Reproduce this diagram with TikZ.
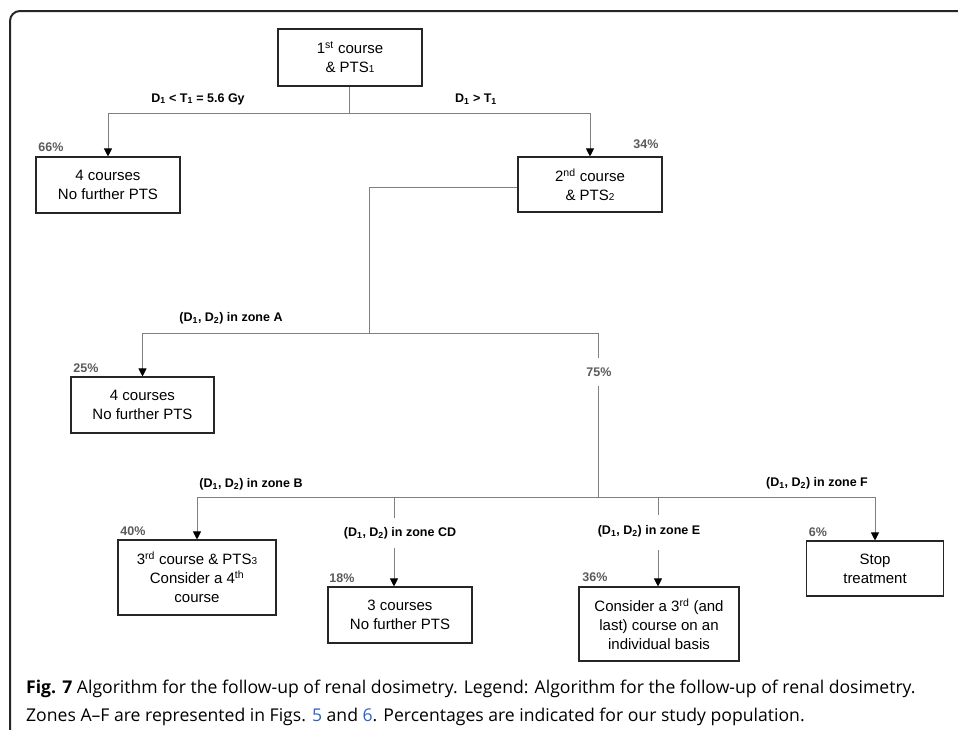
\documentclass[tikz,border=0pt]{standalone}
\usepackage{fontspec}
\setmainfont{Liberation Sans}
\newfontfamily\capfont{Open Sans}
\usetikzlibrary{arrows.meta}
\definecolor{linegray}{HTML}{808080}
\definecolor{pctgray}{HTML}{5A5A5A}
\definecolor{linkblue}{HTML}{2A63C8}
\newcommand{\sbs}[1]{{\fontsize{10}{10}\selectfont #1}}
\begin{document}
\begin{tikzpicture}[x=1pt,y=-1pt,
  box/.style={draw=black!85,line width=1.1pt,align=center,inner sep=0pt,
    font=\fontsize{15}{19}\selectfont},
  conn/.style={draw=linegray,line width=0.9pt},
  arr/.style={conn,-{Triangle[width=8pt,length=8pt,color=black]}},
  lbl/.style={font=\bfseries\fontsize{12.5}{14}\selectfont,inner sep=0pt},
  pct/.style={font=\bfseries\fontsize{12.5}{14}\selectfont,text=pctgray,inner sep=0pt}]
\useasboundingbox (0,0) rectangle (958,729);
% frame
\draw[line width=2pt,draw=black!85,rounded corners=10pt] (962,11) -- (10,11) -- (10,733);
% boxes
\node[box,minimum width=144pt,minimum height=57pt] (b1) at (350,57.5) {1\textsuperscript{st} course\\\& PTS\sbs{1}};
\node[box,minimum width=144pt,minimum height=56pt] (b2L) at (108,185) {4 courses\\No further PTS};
\node[box,minimum width=144pt,minimum height=55pt] (b2R) at (590,184.5) {2\textsuperscript{nd} course\\\& PTS\sbs{2}};
\node[box,minimum width=143pt,minimum height=56pt] (b3) at (142.5,405) {4 courses\\No further PTS};
\node[box,minimum width=158pt,minimum height=75pt] (b4) at (197,577.5) {3\textsuperscript{rd} course \& PTS\sbs{3}\\Consider a 4\textsuperscript{th}\\course};
\node[box,minimum width=144pt,minimum height=56pt] (b5) at (400,615) {3 courses\\No further PTS};
\node[box,minimum width=160pt,minimum height=74pt] (b6) at (659,624) {Consider a 3\textsuperscript{rd} (and\\last) course on an\\individual basis};
\node[box,minimum width=137pt,minimum height=55pt] (b7) at (875,568.5) {Stop\\treatment};
% labels
\node[lbl] (l1) at (198,99) {D\textsubscript{1} < T\textsubscript{1} = 5.6 Gy};
\node[lbl] (l2) at (476,99) {D\textsubscript{1} > T\textsubscript{1}};
\node[lbl] (lA) at (231,318) {(D\textsubscript{1}, D\textsubscript{2}) in zone A};
\node[lbl] (lB) at (251,484) {(D\textsubscript{1}, D\textsubscript{2}) in zone B};
\node[lbl] (lCD) at (400,533) {(D\textsubscript{1}, D\textsubscript{2}) in zone CD};
\node[lbl] (lE) at (649,531) {(D\textsubscript{1}, D\textsubscript{2}) in zone E};
\node[lbl] (lF) at (817,483) {(D\textsubscript{1}, D\textsubscript{2}) in zone F};
% percentages
\node[pct] (p66) at (51,147) {66\%};
\node[pct] (p34) at (646,144) {34\%};
\node[pct] (p25) at (86,368) {25\%};
\node[pct,inner ysep=9pt] (p75) at (599,372) {75\%};
\node[pct] (p40) at (133,531) {40\%};
\node[pct] (p18) at (342,578) {18\%};
\node[pct] (p36) at (595,577) {36\%};
\node[pct] (p6) at (818,532) {6\%};
% junctions
\coordinate (j1) at (349,113);
\coordinate (j2) at (369,333);
\coordinate (j3) at (598,333);
\coordinate (j4) at (598,497);
\coordinate (cdT) at (394,497);
\coordinate (cdB) at (394,518);
\coordinate (cdA) at (394,548);
\coordinate (eT) at (658,497);
\coordinate (eB) at (658,515);
\coordinate (eA) at (658,550);
% connectors
\draw[conn] (b1.south -| j1) -- (j1);
\draw[arr] (j1) -| (b2L.north);
\draw[arr] (j1) -| (b2R.north);
\draw[conn] (b2R.west |- 0,187) -| (j2);
\draw[arr] (j2) -| (b3.north);
\draw[conn] (j2) -- (j3) -- (p75.north -| j3);
\draw[conn] (p75.south -| j3) -- (j4);
\draw[arr] (j4) -| (b4.north);
\draw[arr] (j4) -| (b7.north);
\draw[conn] (cdT) -- (cdB);
\draw[arr] (cdA) -- (cdA |- b5.north);
\draw[conn] (eT) -- (eB);
\draw[arr] (eA) -- (eA |- b6.north);
% caption
\node[anchor=base west,inner sep=0pt,font=\capfont\fontsize{17.6}{20}\selectfont] (cap1) at (26,693) {\textbf{Fig. 7} Algorithm for the follow-up of renal dosimetry. Legend: Algorithm for the follow-up of renal dosimetry.};
\node[anchor=base west,inner sep=0pt,font=\capfont\fontsize{17.6}{20}\selectfont] (cap2) at (26,721) {Zones A–F are represented in Figs. \textcolor{linkblue}{5} and \textcolor{linkblue}{6}. Percentages are indicated for our study population.};
\end{tikzpicture}
\end{document}
